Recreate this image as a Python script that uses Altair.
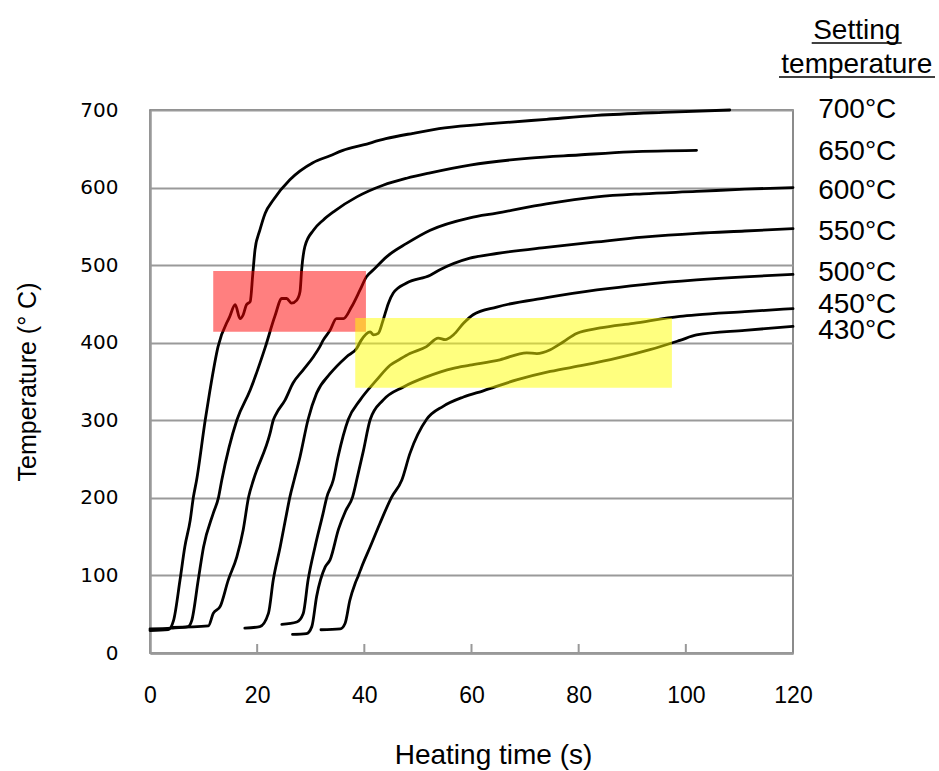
import altair as alt
import pandas as pd

# ---- data ----
settings = ["700°C", "650°C", "600°C", "550°C", "500°C", "450°C", "430°C"]

t700 = [0, 3.4, 4.4, 5.6, 6.5, 7.5, 8.1, 8.7, 10.3, 11.2, 12.7, 14.9, 15.9, 16.8, 17.4, 18.0, 18.7, 19.2, 19.6,
        20.5, 21.5, 23.0, 26.1, 30.4, 33.6, 36.0, 39.8, 44.0, 49.1, 55.0, 64.7, 74.0, 83.4, 95.8, 108.2]
T700 = [29, 30, 42, 94, 137, 171, 201, 223, 300, 339, 395, 434, 449, 431, 436, 449, 453, 490, 520,
        545, 567, 584, 610, 632, 641, 648, 655, 663, 670, 677, 683, 688, 693, 697, 700]

t650 = [0, 4.0, 7.1, 7.8, 9.0, 10.0, 11.8, 12.8, 13.4, 16.2, 18.7, 21.5, 23.3, 24.6, 25.5, 26.4, 27.4, 28.0,
        28.3, 28.9, 30.5, 32.3, 34.5, 38.6, 43.5, 47.9, 52.3, 59.7, 70.9, 80.0, 89.6, 102.0]
T650 = [31, 32, 34, 42, 94, 137, 180, 201, 223, 300, 339, 394, 434, 457, 457, 451, 455, 466,
        494, 524, 545, 558, 570, 588, 603, 612, 619, 629, 638, 642, 646, 648]

t600 = [4.0, 10.9, 11.8, 13.1, 14.6, 16.2, 17.4, 18.4, 19.3, 22.4, 23.0, 23.6, 25.2, 26.7, 28.6, 30.5, 31.7,
        32.3, 33.6, 34.8, 36.1, 37.6, 39.2, 40.4, 41.7, 44.2, 47.9, 52.3, 59.7, 64.7, 74.0, 83.4, 92.0,
        102.0, 111.0, 120.0]
T600 = [33, 35, 51, 60, 94, 124, 159, 201, 223, 283, 300, 309, 326, 348, 365, 382, 395,
        403, 416, 431, 431, 446, 468, 485, 494, 511, 528, 545, 561, 567, 579, 588, 592,
        595, 598, 600]

t550 = [17.7, 20.5, 22.1, 23.0, 24.3, 25.5, 26.1, 26.9, 28.0, 29.5, 31.1, 33.6, 36.7, 38.6, 39.4, 41.1, 41.7,
        42.6, 43.5, 44.5, 45.4, 47.9, 52.3, 54.1, 59.7, 64.7, 74.0, 83.4, 92.0, 102.0, 111.0, 120.0]
T550 = [32, 34, 51, 94, 137, 180, 201, 223, 253, 301, 335, 360, 382, 393, 403, 414, 410,
        412, 429, 451, 464, 477, 487, 494, 509, 515, 523, 530, 536, 541, 544, 547]

t500 = [24.6, 27.4, 28.6, 29.5, 30.8, 32.3, 33.0, 34.2, 35.1, 37.0, 39.2, 42.3, 44.8, 46.7, 48.5, 51.6, 53.8,
        55.1, 56.6, 58.5, 60.3, 64.7, 74.0, 83.4, 92.0, 102.0, 111.0, 120.0]
T500 = [37, 40, 51, 94, 137, 180, 201, 223, 253, 301, 326, 352, 371, 379, 386, 395, 406,
        404, 410, 425, 436, 446, 458, 468, 475, 481, 485, 488]

t450 = [26.6, 29.2, 30.2, 31.1, 32.7, 33.6, 35.2, 36.5, 37.8, 38.8, 39.8, 41.1, 43.5, 47.3, 51.6, 56.6, 59.7,
        65.3, 70.3, 72.2, 74.7, 77.1, 79.6, 84.0, 90.2, 98.9, 102.0, 111.0, 120.0]
T450 = [24, 25, 34, 73, 111, 120, 160, 183, 201, 230, 260, 301, 326, 343, 356, 367, 371,
        378, 387, 386, 391, 401, 412, 419, 425, 434, 436, 440, 444]

t430 = [31.9, 35.5, 36.4, 37.3, 38.3, 38.9, 39.5, 41.1, 42.9, 45.1, 47.0, 48.5, 51.6, 54.7, 58.5, 62.2, 68.4,
        74.7, 80.9, 87.1, 93.3, 98.9, 102.0, 111.0, 120.0]
T430 = [30, 31, 38, 68, 90, 100, 111, 137, 167, 201, 223, 257, 301, 318, 330, 338, 352,
        363, 371, 380, 391, 403, 410, 416, 421]

series_t = [t700, t650, t600, t550, t500, t450, t430]
series_T = [T700, T650, T600, T550, T500, T450, T430]

x_ticks = [0, 20, 40, 60, 80, 100, 120]
y_ticks = [0, 100, 200, 300, 400, 500, 600, 700]

# highlighted regions (time from/to, temperature from/to)
box_names = ["a_red", "b_yellow"]
box_t0 = [11.8, 38.3]
box_t1 = [40.3, 97.4]
box_T0 = [414, 342]
box_T1 = [492.5, 432]
box_colors = ["#ff0000", "#ffff00"]

# right-hand labels
label_T = [700, 646, 595, 543, 490, 449, 415]
heading_lines = ["Setting", "temperature"]

# ---- build tables ----
rows = []
for name, ts, Ts in zip(settings, series_t, series_T):
    for i, (a, b) in enumerate(zip(ts, Ts)):
        rows.append({"setting": name, "idx": i, "time": a, "temp": b})
df = pd.DataFrame(rows)

boxes = pd.DataFrame({"name": box_names, "time": box_t0, "t1": box_t1, "temp": box_T0, "T1": box_T1,
                      "color": box_colors})

W, H = 643, 543
XMAX, YMAX = 120.0, 700.0
px_x = XMAX / W   # data units per pixel
px_y = YMAX / H

lab = pd.DataFrame({"label": settings, "temp": label_T, "time": [124.7] * len(settings)})

head = pd.DataFrame({"label": heading_lines, "time": [131.9, 131.9],
                     "temp": [(653 - 39) * px_y, (653 - 73) * px_y]})
under = pd.DataFrame({"time": [(811.7 - 150) * px_x, (779 - 150) * px_x],
                      "t1": [(901.7 - 150) * px_x, (935 - 150) * px_x],
                      "temp": [(653 - 43) * px_y, (653 - 77) * px_y]})

ticks_df = pd.DataFrame({"time": x_ticks[1:-1], "temp": 0.0, "y1": 9 * px_y})

XT = "Heating time (s)"
YT = "Temperature (° C)"
xscale = alt.Scale(domain=[0, XMAX], nice=False)
yscale = alt.Scale(domain=[0, YMAX], nice=False)


def X():
    return alt.X("time:Q", scale=xscale, title=XT)


def Y():
    return alt.Y("temp:Q", scale=yscale, title=YT)


lines = alt.Chart(df).mark_line(color="black", strokeWidth=2.8, strokeJoin="round", strokeCap="round",
                                interpolate="monotone").encode(
    x=alt.X("time:Q", scale=xscale, title=XT, axis=alt.Axis(
        values=x_ticks, grid=False, ticks=False, tickSize=0, domainColor="#999999", domainWidth=2.5,
        labelFont="Liberation Sans", labelFontSize=23, labelColor="black", labelPadding=31,
        labelFlush=False, titleFont="Liberation Sans", titleFontSize=28,
        titleFontWeight="normal", titleColor="black", titleX=343, titleY=110,
        titleBaseline="alphabetic", titleAlign="center")),
    y=alt.Y("temp:Q", scale=yscale, title=YT, axis=alt.Axis(
        values=y_ticks, grid=True, gridColor="#9a9a9a", gridWidth=1.8, ticks=False, tickSize=0,
        domainColor="#999999", domainWidth=2.5, labelFont="DejaVu Sans", labelFontSize=20,
        labelColor="black", labelPadding=32, titleFont="Liberation Sans",
        titleFontSize=25, titleFontWeight="normal", titleColor="black", titleX=-123, titleY=271.5,
        titleAngle=270, titleBaseline="middle", titleAlign="center")),
    detail="setting:N",
    order="idx:Q",
)

inticks = alt.Chart(ticks_df).mark_rule(color="#999999", strokeWidth=2).encode(
    x=X(), y=Y(), y2="y1:Q",
)

rects = alt.Chart(boxes).mark_rect(opacity=0.5).encode(
    x=X(), x2="t1:Q", y=Y(), y2="T1:Q",
    color=alt.Color("color:N", scale=None, legend=None),
    order=alt.Order("name:N", sort="ascending"),
)

labels = alt.Chart(lab).mark_text(align="left", baseline="middle", font="Liberation Sans", fontSize=28,
                                  color="black").encode(
    x=X(), y=Y(), text="label:N",
)

heading = alt.Chart(head).mark_text(align="center", baseline="alphabetic", font="Liberation Sans",
                                    fontSize=28, color="black").encode(
    x=X(), y=Y(), text="label:N",
)

underline = alt.Chart(under).mark_rule(color="black", strokeWidth=1.5).encode(
    x=X(), x2="t1:Q", y=Y(),
)

chart = alt.layer(lines, inticks, rects, labels, heading, underline).properties(
    width=W, height=H,
    autosize=alt.AutoSizeParams(type="none"),
    padding={"left": 150, "top": 110, "right": 146, "bottom": 118},
    background="white",
).configure_view(stroke="#666666", strokeWidth=1.5)

chart.save("out.html", embed_options={"renderer": "svg", "actions": False})
